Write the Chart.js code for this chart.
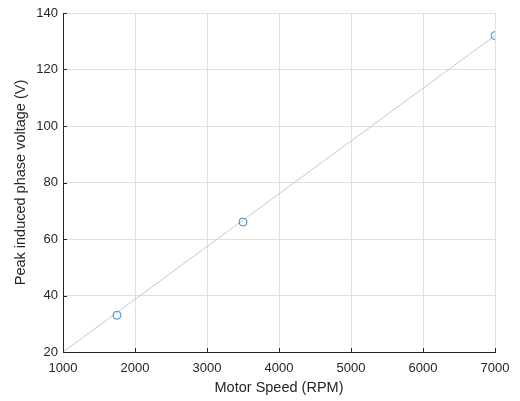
<!DOCTYPE html>
<html>
<head>
<meta charset="utf-8">
<script src="https://cdn.jsdelivr.net/npm/chart.js@4/dist/chart.umd.min.js"></script>
<style>
  html, body { margin: 0; padding: 0; background: #fff; }
  #wrap { width: 520px; height: 401px; }
</style>
</head>
<body>
<div id="wrap"><canvas id="chart" width="520" height="401"></canvas></div>
<script>
// Measured points
const speedRpm = [1750, 3500, 7000];
const peakVoltage = [33, 66, 132];

// Fitted line end points
const fitSpeed = [1000, 7000];
const fitVoltage = [20, 132];

// Axis ticks
const xTicks = [1000, 2000, 3000, 4000, 5000, 6000, 7000];
const yTicks = [20, 40, 60, 80, 100, 120, 140];

const FONT = '"Liberation Sans", Arial, Helvetica, sans-serif';
const AXIS_COLOR = '#262626';

// MATLAB style ticks pointing into the plot area
const insideTicks = {
    id: 'insideTicks',
    afterDraw(chart) {
        const ctx = chart.ctx;
        const area = chart.chartArea;
        const xs = chart.scales.x;
        const ys = chart.scales.y;
        const len = 4;
        ctx.save();
        ctx.strokeStyle = AXIS_COLOR;
        ctx.lineWidth = 1;
        ctx.beginPath();
        xTicks.forEach(v => {
            const px = Math.round(xs.getPixelForValue(v)) + 0.5;
            ctx.moveTo(px, area.bottom);
            ctx.lineTo(px, area.bottom - len);
        });
        yTicks.forEach(v => {
            const py = Math.round(ys.getPixelForValue(v)) + 0.5;
            ctx.moveTo(area.left, py);
            ctx.lineTo(area.left + len, py);
        });
        ctx.stroke();
        ctx.restore();
    }
};

const ctx = document.getElementById('chart').getContext('2d');
new Chart(ctx, {
    type: 'scatter',
    data: {
        datasets: [
            {
                label: 'Fit',
                data: fitSpeed.map((x, i) => ({ x: x, y: fitVoltage[i] })),
                showLine: true,
                borderColor: '#c8c8c8',
                borderWidth: 1,
                pointRadius: 0,
                fill: false,
                order: 2
            },
            {
                label: 'Measured',
                data: speedRpm.map((x, i) => ({ x: x, y: peakVoltage[i] })),
                showLine: false,
                pointStyle: 'circle',
                pointRadius: 4,
                pointBorderWidth: 1,
                pointBorderColor: '#3f88c2',
                pointBackgroundColor: 'rgba(0,0,0,0)',
                order: 1
            }
        ]
    },
    options: {
        responsive: false,
        animation: false,
        layout: { padding: { left: 0, top: 13, right: 25, bottom: 0 } },
        plugins: {
            legend: { display: false },
            tooltip: { enabled: false }
        },
        scales: {
            x: {
                type: 'linear',
                min: 1000,
                max: 7000,
                afterBuildTicks: s => { s.ticks = xTicks.map(v => ({ value: v })); },
                afterFit: s => { s.height = 49; },
                grid: { color: '#e0e0e0', drawTicks: false },
                border: { display: true, color: AXIS_COLOR, width: 1 },
                ticks: {
                    padding: 9,
                    color: AXIS_COLOR,
                    font: { family: FONT, size: 13 },
                    maxRotation: 0,
                    callback: v => String(v)
                },
                title: {
                    display: true,
                    text: 'Motor Speed (RPM)',
                    color: AXIS_COLOR,
                    padding: 4,
                    font: { family: FONT, size: 14.5 }
                }
            },
            y: {
                type: 'linear',
                min: 20,
                max: 140,
                afterBuildTicks: s => { s.ticks = yTicks.map(v => ({ value: v })); },
                afterFit: s => { s.width = 63; },
                grid: { color: '#e0e0e0', drawTicks: false },
                border: { display: true, color: AXIS_COLOR, width: 1 },
                ticks: {
                    padding: 5,
                    color: AXIS_COLOR,
                    font: { family: FONT, size: 13 },
                    callback: v => String(v)
                },
                title: {
                    display: true,
                    text: 'Peak induced phase voltage (V)',
                    color: AXIS_COLOR,
                    padding: 12,
                    font: { family: FONT, size: 14.5 }
                }
            }
        }
    },
    plugins: [insideTicks]
});
</script>
</body>
</html>
